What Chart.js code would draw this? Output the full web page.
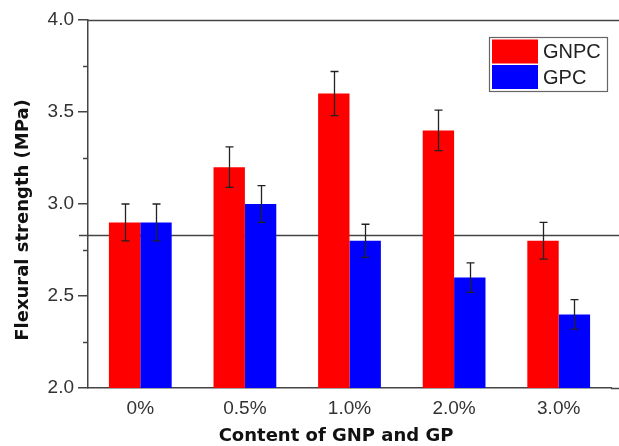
<!DOCTYPE html>
<html>
<head>
<meta charset="utf-8">
<script src="https://cdn.jsdelivr.net/npm/chart.js@4"></script>
<style>
  body { margin: 0; background: #fff; }
  #wrap { width: 619px; height: 446px; }
</style>
</head>
<body>
<div id="wrap"><canvas id="chart" width="619" height="446"></canvas></div>
<script>
const categories = ['0%', '0.5%', '1.0%', '2.0%', '3.0%'];
const gnpcValues = [2.9, 3.2, 3.6, 3.4, 2.8];
const gnpcErrors = [0.1, 0.11, 0.12, 0.11, 0.1];
const gpcValues = [2.9, 3.0, 2.8, 2.6, 2.4];
const gpcErrors = [0.1, 0.1, 0.09, 0.08, 0.08];
const yTicks = ['2.0', '2.5', '3.0', '3.5', '4.0'];
const refLine = 2.83;
const xTitle = 'Content of GNP and GP';
const yTitle = 'Flexural strength (MPa)';

const axisColor = '#444';
const textColor = '#333';
const tickFont = { size: 19, family: '"Liberation Sans", Arial, sans-serif' };
const titleFontCss = 'bold 18px "DejaVu Sans", sans-serif';

// error bars, reference line, minor ticks, frame lines, titles and legend
const extras = {
    id: 'extras',
    beforeDatasetsDraw(chart) {
        const ctx = chart.ctx;
        const y = chart.scales.y;
        const area = chart.chartArea;
        const py = Math.round(y.getPixelForValue(refLine)) + 0.5;
        ctx.save();
        ctx.strokeStyle = axisColor;
        ctx.lineWidth = 1.5;
        ctx.beginPath();
        ctx.moveTo(area.left - 9, py);
        ctx.lineTo(chart.width, py);
        ctx.stroke();
        ctx.restore();
    },
    afterDatasetsDraw(chart) {
        const ctx = chart.ctx;
        const y = chart.scales.y;
        const errs = [gnpcErrors, gpcErrors];
        ctx.save();
        ctx.strokeStyle = '#222';
        ctx.lineWidth = 1.3;
        chart.data.datasets.forEach((ds, i) => {
            chart.getDatasetMeta(i).data.forEach((bar, j) => {
                const v = ds.data[j];
                const hi = y.getPixelForValue(v + errs[i][j]);
                const lo = y.getPixelForValue(v - errs[i][j]);
                const x = Math.round(bar.x) + 0.5;
                ctx.beginPath();
                ctx.moveTo(x, hi); ctx.lineTo(x, lo);
                ctx.moveTo(x - 4, hi); ctx.lineTo(x + 4, hi);
                ctx.moveTo(x - 4, lo); ctx.lineTo(x + 4, lo);
                ctx.stroke();
            });
        });
        ctx.restore();
    },
    afterDraw(chart) {
        const ctx = chart.ctx;
        const y = chart.scales.y;
        const area = chart.chartArea;
        ctx.save();
        ctx.strokeStyle = axisColor;
        ctx.lineWidth = 1.5;
        // minor ticks
        for (let v = 2.25; v < 4; v += 0.5) {
            const p = Math.round(y.getPixelForValue(v)) + 0.5;
            ctx.beginPath();
            ctx.moveTo(area.left - 5, p);
            ctx.lineTo(area.left, p);
            ctx.stroke();
        }
        // top and bottom lines run to the edge
        ctx.beginPath();
        ctx.moveTo(area.left, area.top + 0.5);
        ctx.lineTo(chart.width, area.top + 0.5);
        ctx.moveTo(area.right, area.bottom + 0.5);
        ctx.lineTo(chart.width, area.bottom + 0.5);
        ctx.stroke();

        // axis titles
        ctx.fillStyle = '#111';
        ctx.font = titleFontCss;
        ctx.textAlign = 'center';
        ctx.textBaseline = 'middle';
        ctx.fillText(xTitle, 336, 436);
        ctx.save();
        ctx.translate(23, 220);
        ctx.rotate(-Math.PI / 2);
        ctx.fillText(yTitle, 0, 0);
        ctx.restore();

        // legend
        const lx = 489, ly = 37, lw = 118, lh = 54;
        ctx.strokeStyle = '#666';
        ctx.lineWidth = 1.2;
        ctx.strokeRect(lx + 0.5, ly + 0.5, lw, lh);
        ctx.font = '20px "Liberation Sans", Arial, sans-serif';
        ctx.textAlign = 'left';
        chart.data.datasets.forEach((ds, i) => {
            const ry = ly + 2.5 + i * 25.5;
            ctx.fillStyle = ds.backgroundColor;
            ctx.fillRect(lx + 3, ry, 46, 24);
            ctx.fillStyle = '#222';
            ctx.fillText(ds.label, lx + 54, ry + 13);
        });
        ctx.restore();
    }
};

const config = {
    type: 'bar',
    data: {
        labels: categories,
        datasets: [
            { label: 'GNPC', data: gnpcValues, backgroundColor: '#ff0000' },
            { label: 'GPC', data: gpcValues, backgroundColor: '#0000ff' }
        ]
    },
    options: {
        responsive: false,
        animation: false,
        layout: { padding: { top: 20, right: 8, left: 0, bottom: 0 } },
        datasets: { bar: { categoryPercentage: 0.6, barPercentage: 1.0, borderWidth: 0 } },
        plugins: { legend: { display: false }, tooltip: { enabled: false } },
        scales: {
            x: {
                grid: { display: false, drawTicks: false },
                border: { display: true, color: axisColor, width: 1.5 },
                ticks: { color: textColor, font: tickFont, padding: 9 },
                afterFit: s => { s.height = 58; }
            },
            y: {
                min: 2.0, max: 4.0,
                grid: { drawOnChartArea: false, tickLength: 10, color: axisColor, lineWidth: 1.5 },
                border: { display: true, color: axisColor, width: 1.5 },
                ticks: {
                    stepSize: 0.5, padding: 4, color: textColor, font: tickFont,
                    callback: (v, i) => yTicks[i]
                },
                afterFit: s => { s.width = 88; }
            }
        }
    },
    plugins: [extras]
};

new Chart(document.getElementById('chart'), config);
</script>
</body>
</html>
